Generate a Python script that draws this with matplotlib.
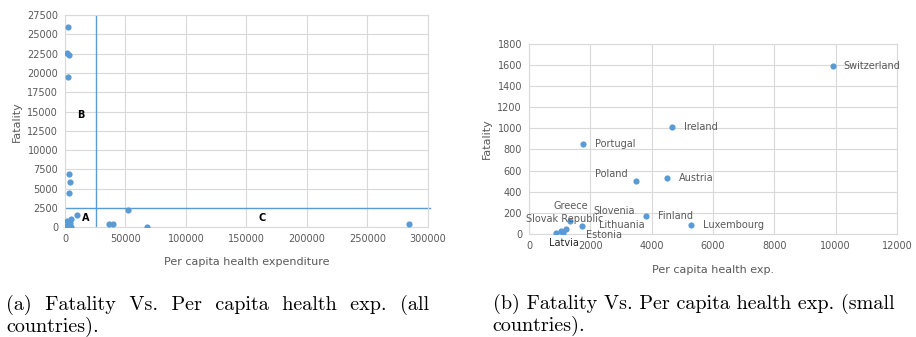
import matplotlib.pyplot as plt

# --- Data: all countries (left panel) ---
all_exp = [2200, 1400, 3300, 2200, 3300, 3900, 3300, 51800, 36600, 40000, 67500, 284300,
           9900, 4650, 1750, 3500, 4500, 3820, 5270, 1330, 1740, 870, 1060, 1110, 1220]
all_fat = [26000, 22600, 22300, 19500, 6830, 5880, 4370, 2160, 350, 450, 50, 350,
           1590, 1010, 850, 500, 525, 170, 82, 125, 73, 10, 28, 10, 42]

# --- Data: small countries (right panel) ---
countries = ['Switzerland', 'Ireland', 'Portugal', 'Poland', 'Austria', 'Finland',
             'Luxembourg', 'Greece', 'Slovenia', 'Latvia', 'Slovak Republic',
             'Lithuania', 'Estonia']
small_exp = [9900, 4650, 1760, 3490, 4510, 3820, 5270, 1330, 1740, 870, 1060, 1110, 1220]
small_fat = [1590, 1010, 850, 497, 525, 170, 82, 125, 73, 10, 28, 10, 42]

# label offsets in pixels (dx, dy, ha)
label_offsets = [(11, 0, 'left'), (12, 0, 'left'), (12, 0, 'left'), (-8, 7, 'right'),
                 (12, 0, 'left'), (12, 0, 'left'), (12, 0, 'left'), (1, 15, 'center'),
                 (32, 15, 'center'), (8, -10, 'center'), (3, 12, 'center'),
                 (59, 8, 'center'), (38, -6, 'center')]

dot = '#5B9BD5'
grid = '#D9D9D9'
txt = '#595959'

fig = plt.figure(figsize=(9.16, 3.37), dpi=100)
ax1 = fig.add_axes([0.071, 0.326, 0.396, 0.629])
ax2 = fig.add_axes([0.5775, 0.306, 0.4017, 0.564])


def style(ax):
    for s in ax.spines.values():
        s.set_color(grid)
        s.set_linewidth(0.8)
    ax.grid(True, color=grid, linewidth=0.8)
    ax.set_axisbelow(True)
    ax.tick_params(length=0, labelsize=7, colors=txt, pad=5)


# left panel
style(ax1)
ax1.scatter(all_exp, all_fat, s=20, color=dot, zorder=3, linewidths=0)
ax1.set_xlim(0, 300000)
ax1.set_ylim(0, 27500)
ax1.set_xticks(range(0, 300001, 50000))
ax1.set_yticks(range(0, 27501, 2500))
ax1.axvline(26000, color=dot, linewidth=1, zorder=2)
ax1.plot([1000, 301500], [2500, 2500], color=dot, linewidth=1, zorder=2, clip_on=False)
ax1.text(13200, 14500, 'B', fontsize=7, fontweight='bold', ha='center', va='center')
ax1.text(17100, 1130, 'A', fontsize=7, fontweight='bold', ha='center', va='center')
ax1.text(163400, 1130, 'C', fontsize=7, fontweight='bold', ha='center', va='center')
ax1.set_xlabel('Per capita health expenditure', fontsize=8, color=txt, labelpad=9)
ax1.set_ylabel('Fatality', fontsize=8, color=txt, labelpad=4)

# right panel
style(ax2)
ax2.scatter(small_exp, small_fat, s=20, color=dot, zorder=3, linewidths=0)
ax2.set_xlim(0, 12000)
ax2.set_ylim(0, 1800)
ax2.set_xticks(range(0, 12001, 2000))
ax2.set_yticks(range(0, 1801, 200))
for name, x, y, (dx, dy, ha) in zip(countries, small_exp, small_fat, label_offsets):
    col = '#262626' if name == 'Latvia' else txt
    ax2.annotate(name, (x, y), xytext=(dx, dy), textcoords='offset pixels',
                 fontsize=7, color=col, ha=ha, va='center', zorder=4)
ax2.set_xlabel('Per capita health exp.', fontsize=8, color=txt, labelpad=10)
ax2.set_ylabel('Fatality', fontsize=8, color=txt, labelpad=4)

# captions
cap = dict(fontsize=14.5, family='cmr10', va='center', ha='left')
fig.text(0.007, 0.095, '(a)  Fatality  Vs.  Per  capita  health  exp.  (all', **cap)
fig.text(0.007, 0.030, 'countries).', **cap)
fig.text(0.538, 0.099, '(b) Fatality Vs. Per capita health exp. (small', **cap)
fig.text(0.538, 0.032, 'countries).', **cap)

fig.savefig('out.png', dpi=100)
